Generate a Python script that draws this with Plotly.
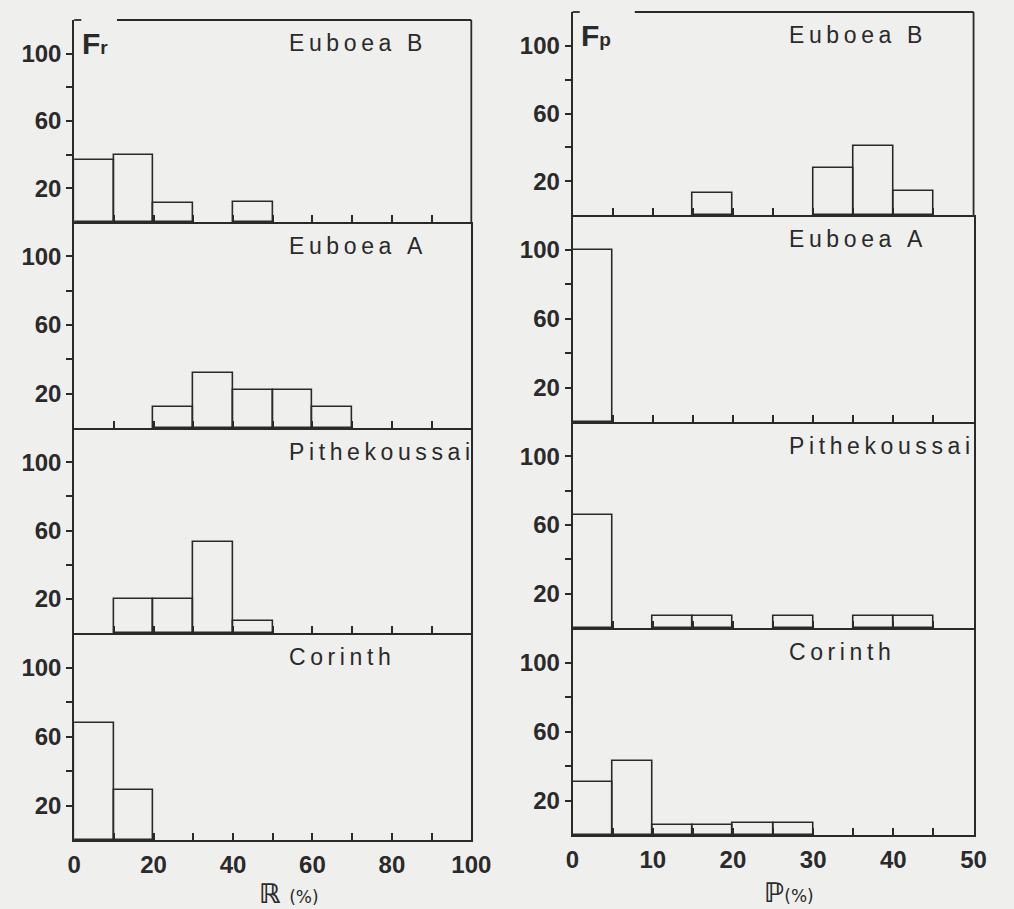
import plotly.graph_objects as go

# ---- data ----
sites = ["Euboea B", "Euboea A", "Pithekoussai", "Corinth"]
r_edges = [0, 10, 20, 30, 40, 50, 60, 70, 80, 90, 100]
p_edges = [0, 5, 10, 15, 20, 25, 30, 35, 40, 45, 50]

fr_euboea_b = [37, 40, 11, 0, 12, 0, 0, 0, 0, 0]
fr_euboea_a = [0, 0, 12, 32, 22, 22, 12, 0, 0, 0]
fr_pithekoussai = [0, 20, 20, 53, 7, 0, 0, 0, 0, 0]
fr_corinth = [68, 29, 0, 0, 0, 0, 0, 0, 0, 0]

fp_euboea_b = [0, 0, 0, 13, 0, 0, 28, 41, 14, 0]
fp_euboea_a = [100, 0, 0, 0, 0, 0, 0, 0, 0, 0]
fp_pithekoussai = [66, 0, 7, 7, 0, 7, 0, 7, 7, 0]
fp_corinth = [31, 43, 6, 6, 7, 7, 0, 0, 0, 0]

y_tickvals = [20, 40, 60, 80, 100]
y_ticktext = ["20", "", "60", "", "100"]
r_ticktext = ["0", "", "20", "", "40", "", "60", "", "80", "", "100"]
p_ticktext = ["0", "", "10", "", "20", "", "30", "", "40", "", "50"]

fr_series = [fr_euboea_b, fr_euboea_a, fr_pithekoussai, fr_corinth]
fp_series = [fp_euboea_b, fp_euboea_a, fp_pithekoussai, fp_corinth]

# ---- layout geometry (pixels of the 1014x909 page) ----
W, H = 1014, 909
BG = "#efefed"
INK = "#2a2a2a"
NUMFONT = "Liberation Sans Narrow, Liberation Sans, Arial, sans-serif"
LBLFONT = "Liberation Sans, Arial, sans-serif"

col_x = [(69, 477), (581, 993)]
row_y = [[20, 222, 428, 633, 840], [12, 215, 422, 628, 835]]

fig = go.Figure()
layout = dict(
    width=W, height=H, paper_bgcolor=BG, plot_bgcolor=BG,
    margin=dict(l=0, r=0, t=0, b=0), showlegend=False,
    bargap=0,
)
shapes = []
annotations = []

for c in range(2):
    edges = r_edges if c == 0 else p_edges
    series = fr_series if c == 0 else fp_series
    ticktext = r_ticktext if c == 0 else p_ticktext
    for r in range(4):
        n = r * 2 + c + 1
        xa = "x" if n == 1 else f"x{n}"
        ya = "y" if n == 1 else f"y{n}"
        xkey = "xaxis" if n == 1 else f"xaxis{n}"
        ykey = "yaxis" if n == 1 else f"yaxis{n}"
        vals = series[r]
        xs, ys, ws = [], [], []
        for i, v in enumerate(vals):
            if v > 0:
                xs.append((edges[i] + edges[i + 1]) / 2)
                ys.append(v)
                ws.append(edges[i + 1] - edges[i])
        fig.add_trace(go.Bar(
            x=xs, y=ys, width=ws, xaxis=xa, yaxis=ya,
            marker=dict(color="rgba(255,255,255,0)", line=dict(color=INK, width=1.6)),
            hoverinfo="skip",
        ))
        x0, x1 = col_x[c]
        ytop, ybot = row_y[c][r], row_y[c][r + 1]
        layout[xkey] = dict(
            domain=[x0 / W, x1 / W], anchor=ya, range=[edges[0], edges[-1]],
            tickvals=edges, ticktext=ticktext, ticks="inside", ticklen=7,
            tickwidth=1.5, tickcolor=INK, showline=True, linecolor=INK,
            linewidth=1.8, mirror=False, showgrid=False, zeroline=False,
            showticklabels=(r == 3), ticklabelstandoff=2,
            tickfont=dict(family=NUMFONT, size=24, color=INK, weight="bold"),
        )
        layout[ykey] = dict(
            domain=[1 - ybot / H, 1 - ytop / H], anchor=xa, range=[0, 120],
            tickvals=y_tickvals, ticktext=y_ticktext, ticks="outside",
            ticklen=6, tickwidth=1.5, tickcolor=INK, showline=True,
            linecolor=INK, linewidth=1.8, mirror=(r != 0), showgrid=False,
            zeroline=False,
            tickfont=dict(family=NUMFONT, size=24, color=INK, weight="bold"),
        )
        if r == 0:
            # right border and top border with a gap for the F label
            shapes.append(dict(type="line", xref=f"{xa} domain", yref=f"{ya} domain",
                               x0=1, x1=1, y0=0, y1=1, line=dict(color=INK, width=1.8)))
            gap_end = (113 - 69) / 408 if c == 0 else (645 - 581) / 412
            shapes.append(dict(type="line", xref=f"{xa} domain", yref=f"{ya} domain",
                               x0=0, x1=0.018, y0=1, y1=1, line=dict(color=INK, width=1.8)))
            shapes.append(dict(type="line", xref=f"{xa} domain", yref=f"{ya} domain",
                               x0=gap_end, x1=1, y0=1, y1=1, line=dict(color=INK, width=1.8)))
            flabel = "r" if c == 0 else "p"
            annotations.append(dict(
                xref=f"{xa} domain", yref=f"{ya} domain", x=0.015, y=0.885,
                xanchor="left", yanchor="middle", showarrow=False,
                text=f"<b>F</b><b><span style='font-size:19px'>{flabel}</span></b>",
                font=dict(family=NUMFONT, size=30, color=INK),
            ))
        # site label with wide letter spacing
        spaced = "\u2009".join(list(sites[r]))
        annotations.append(dict(
            xref=f"{xa} domain", yref=f"{ya} domain", x=0.535, y=0.885,
            xanchor="left", yanchor="middle", showarrow=False, text=spaced,
            font=dict(family=LBLFONT, size=23, color=INK),
        ))

# axis titles
annotations.append(dict(
    xref="paper", yref="paper", x=290 / W, y=1 - 893 / H, xanchor="center",
    yanchor="middle", showarrow=False,
    text="<b>\u211d</b> <span style='font-size:17px'>(%)</span>",
    font=dict(family="DejaVu Sans, sans-serif", size=27, color=INK),
))
annotations.append(dict(
    xref="paper", yref="paper", x=803 / W, y=1 - 892 / H, xanchor="center",
    yanchor="middle", showarrow=False,
    text="<b>\u2119</b><span style='font-size:17px'>(%)</span>",
    font=dict(family="DejaVu Sans, sans-serif", size=27, color=INK),
))

layout["shapes"] = shapes
layout["annotations"] = annotations
fig.update_layout(**layout)
fig.write_html(
    "out.html",
    config={"displayModeBar": False},
    post_script="document.body.style.margin='0';document.body.style.overflow='hidden';",
)
